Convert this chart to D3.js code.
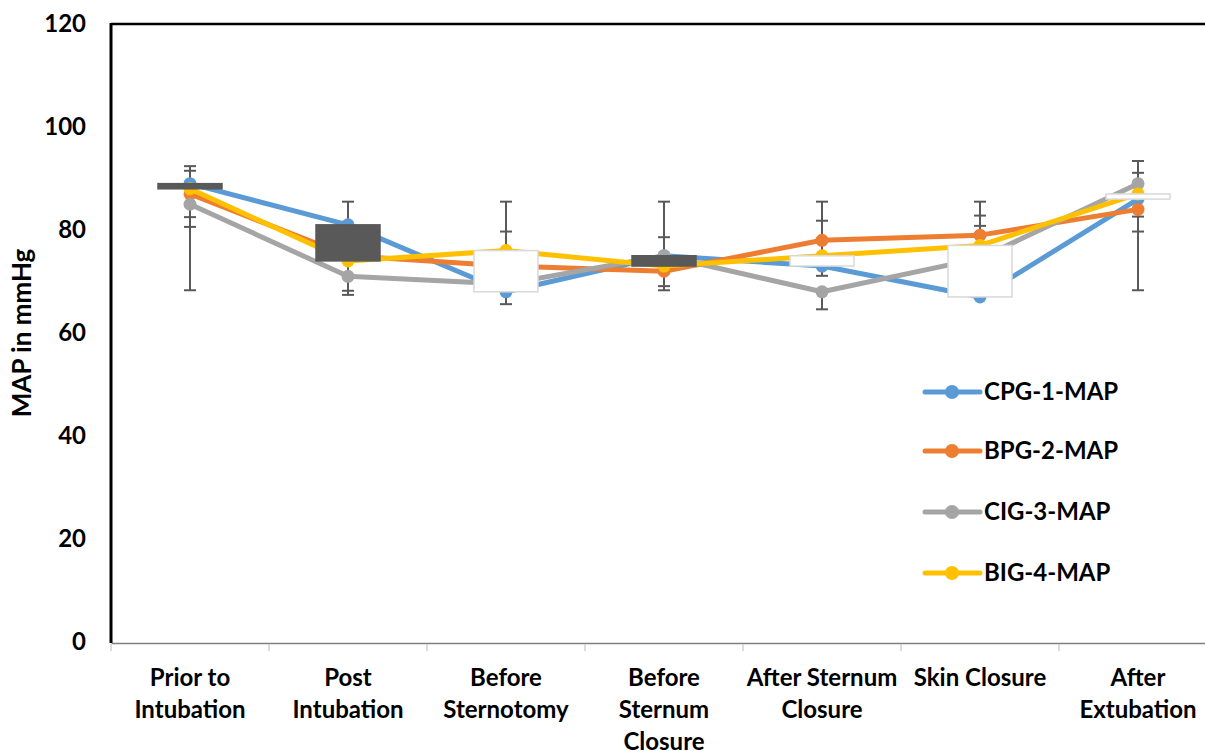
<!DOCTYPE html>
<html><head><meta charset="utf-8">
<script src="https://cdnjs.cloudflare.com/ajax/libs/d3/7.8.5/d3.min.js"></script>
<style>body{margin:0;background:#fff;} text{font-family:Lato,"Open Sans",sans-serif;font-weight:bold;fill:#000;}</style>
</head><body><svg id="c" width="1205" height="751"></svg>
<script>
const categories = ["Prior to\nIntubation","Post\nIntubation","Before\nSternotomy","Before\nSternum\nClosure","After Sternum\nClosure","Skin Closure","After\nExtubation"];
const seriesNames = ["CPG-1-MAP","BPG-2-MAP","CIG-3-MAP","BIG-4-MAP"];
const seriesColors = ["#5B9BD5","#ED7D31","#A5A5A5","#FFC000"];
const cpg = [89, 81, 68, 75, 73, 67, 86];
const bpg = [87, 75, 73, 72, 78, 79, 84];
const cig = [85, 71, 69.5, 75, 68, 74.5, 89];
const big = [88, 74, 76, 73, 75, 77, 87];
// error bar ends (absolute values), null = none
const cpgErrHi = [92.4, 85.5, null, 78.6, null, null, null];
const cpgErrLo = [68.3, null, 65.6, null, 71.1, null, 79.7];
const bpgErrHi = [91.5, null, 79.7, null, 85.5, 85.5, null];
const bpgErrLo = [null, 67.4, null, 69.1, null, null, 68.3];
const cigErrHi = [null, null, null, 85.5, null, 80.8, 93.4];
const cigErrLo = [80.6, 68.2, null, null, 64.6, null, 82.6];
const bigErrHi = [null, null, 85.5, null, 81.8, 82.8, 91.1];
const bigErrLo = [82.5, null, null, 68.3, null, null, null];
const yTicks = [0, 20, 40, 60, 80, 100, 120];

const values = [cpg, bpg, cig, big];
const errHi = [cpgErrHi, bpgErrHi, cigErrHi, bigErrHi];
const errLo = [cpgErrLo, bpgErrLo, cigErrLo, bigErrLo];

const L = 111, R = 1217, T = 24, B = 642;
const svg = d3.select("#c");
const x = d3.scaleBand().domain(categories).range([L, R]).padding(0);
const y = d3.scaleLinear().domain([0, 120]).range([B, T]);
const cx = c => x(c) + x.bandwidth() / 2;

// x axis
const xAxis = svg.append("g").attr("transform", `translate(0,${B + 1})`)
  .call(d3.axisBottom(x).tickSize(0).tickFormat(""));
xAxis.select(".domain").attr("stroke", "#7F7F7F").attr("stroke-width", 1.5);
const bounds = categories.map(c => x(c)).concat([R]);
svg.append("g").selectAll("line").data(bounds).join("line")
  .attr("x1", d => d).attr("x2", d => d).attr("y1", B + 2).attr("y2", B + 9)
  .attr("stroke", "#D0D0D0").attr("stroke-width", 1.5);
// x labels
const xl = svg.append("g");
categories.forEach(c => {
  const t = xl.append("text").attr("text-anchor", "middle").attr("font-size", 24);
  c.split("\n").forEach((s, i) => {
    t.append("tspan").attr("x", cx(c)).attr("y", 686 + i * 32).text(s);
  });
});

// y axis labels
const yAxis = svg.append("g").attr("transform", `translate(${L},0)`)
  .call(d3.axisLeft(y).tickValues(yTicks).tickSize(0).tickPadding(25));
yAxis.select(".domain").remove();
yAxis.selectAll("text").attr("font-size", 24).attr("font-family", "Lato").attr("font-weight", "bold").attr("fill", "#000");

// plot border (top + left black)
svg.append("line").attr("x1", L).attr("x2", R).attr("y1", T).attr("y2", T).attr("stroke", "#000").attr("stroke-width", 2.5);
svg.append("line").attr("x1", L).attr("x2", L).attr("y1", T - 1).attr("y2", B + 1).attr("stroke", "#000").attr("stroke-width", 3);

// y title
svg.append("text").attr("transform", `translate(31,${(T + B) / 2}) rotate(-90)`)
  .attr("text-anchor", "middle").attr("font-size", 26).text("MAP in mmHg");

// error bars
const eg = svg.append("g").attr("stroke", "#595959").attr("stroke-width", 2);
values.forEach((vals, s) => {
  [errHi[s], errLo[s]].forEach(arr => {
    arr.forEach((e, i) => {
      if (e == null) return;
      const px = cx(categories[i]);
      eg.append("line").attr("x1", px).attr("x2", px).attr("y1", y(vals[i])).attr("y2", y(e));
      eg.append("line").attr("x1", px - 6).attr("x2", px + 6).attr("y1", y(e)).attr("y2", y(e));
    });
  });
});

// lines and markers
const line = d3.line().x((d, i) => cx(categories[i])).y(d => y(d));
values.forEach((vals, s) => {
  svg.append("path").datum(vals).attr("d", line).attr("fill", "none")
    .attr("stroke", seriesColors[s]).attr("stroke-width", 5).attr("stroke-linejoin", "round").attr("stroke-linecap", "round");
  svg.append("g").selectAll("circle").data(vals).join("circle")
    .attr("cx", (d, i) => cx(categories[i])).attr("cy", d => y(d)).attr("r", 6.5)
    .attr("fill", seriesColors[s]);
});

// up/down bars between first and last series
const first = values[0], last = values[values.length - 1];
svg.append("g").selectAll("rect").data(categories).join("rect")
  .attr("x", c => cx(c) - 32).attr("width", 64)
  .attr("y", (c, i) => y(Math.max(first[i], last[i])))
  .attr("height", (c, i) => Math.abs(y(first[i]) - y(last[i])))
  .attr("fill", (c, i) => last[i] >= first[i] ? "#FFFFFF" : "#595959")
  .attr("stroke", (c, i) => last[i] >= first[i] ? "#D9D9D9" : "#595959")
  .attr("stroke-width", 1.5);

// legend
const lg = svg.append("g");
const legY = [392, 451, 512, 573];
seriesNames.forEach((n, s) => {
  const g = lg.append("g").attr("transform", `translate(0,${legY[s]})`);
  g.append("line").attr("x1", 925).attr("x2", 980).attr("y1", 0).attr("y2", 0)
    .attr("stroke", seriesColors[s]).attr("stroke-width", 5).attr("stroke-linecap", "round");
  g.append("circle").attr("cx", 952).attr("cy", 0).attr("r", 7).attr("fill", seriesColors[s]);
  g.append("text").attr("x", 984).attr("y", 0).attr("dy", "0.35em").attr("font-size", 24).text(n);
});
</script></body></html>
